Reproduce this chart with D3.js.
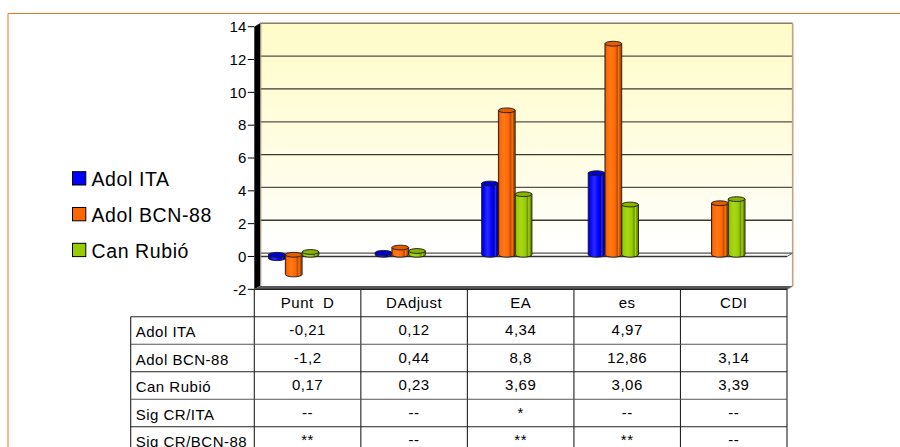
<!DOCTYPE html>
<html>
<head>
<meta charset="utf-8">
<script src="https://cdn.jsdelivr.net/npm/d3@7/dist/d3.min.js"></script>
<style>
  html, body { margin: 0; padding: 0; background: #fff; }
  svg { display: block; font-family: "Liberation Sans", Arial, sans-serif; }
  text { white-space: pre; }
</style>
</head>
<body>
<svg id="chart" width="900" height="447"></svg>
<script>
// Categories and series values
const categories = ["Punt  D", "DAdjust", "EA", "es", "CDI"];
const seriesNames = ["Adol ITA", "Adol BCN-88", "Can Rubió"];
const adolITA   = [-0.21, 0.12, 4.34, 4.97, null];
const adolBCN88 = [-1.2, 0.44, 8.8, 12.86, 3.14];
const canRubio  = [0.17, 0.23, 3.69, 3.06, 3.39];
const sigCrIta  = ["--", "--", "*", "--", "--"];
const sigCrBcn  = ["**", "--", "**", "**", "--"];
const yTickValues = [-2, 0, 2, 4, 6, 8, 10, 12, 14];

const seriesValues = [adolITA, adolBCN88, canRubio];
const seriesColors = [
  { base: "#0000ff", light: "#2a2aff", dark: "#0000a8", top: "#0000d0" },
  { base: "#ff6600", light: "#ff7a1a", dark: "#b84a00", top: "#e85c00" },
  { base: "#99cc00", light: "#a8d81a", dark: "#6e9200", top: "#88b400" }
];

const svg = d3.select("#chart");
const defs = svg.append("defs");

// Layout
const plotLeft = 254.3, plotRight = 787;
const depthX = 5.7, depthY = -3.4;

const y = d3.scaleLinear().domain([-2, 14]).range([289.3, 26.7]);
const x = d3.scaleBand().domain(categories).range([plotLeft, plotRight]);
const bw = x.bandwidth();
const barOffset = bw * 0.134;
const xs = d3.scaleBand().domain(seriesNames).range([0, bw * 0.472]);

// Outer frame
svg.append("line").attr("x1", 8).attr("x2", 900).attr("y1", 13.5).attr("y2", 13.5)
  .attr("stroke", "#e8782e").attr("stroke-width", 1.2);
svg.append("line").attr("x1", 8).attr("x2", 8).attr("y1", 13.5).attr("y2", 447)
  .attr("stroke", "#f9a46c").attr("stroke-width", 1.6);

// Back wall gradient
const wallGrad = defs.append("linearGradient").attr("id", "wallGrad")
  .attr("x1", 0).attr("y1", 0).attr("x2", 0).attr("y2", 1);
wallGrad.append("stop").attr("offset", "0%").attr("stop-color", "#fefcc8");
wallGrad.append("stop").attr("offset", "55%").attr("stop-color", "#fffde6");
wallGrad.append("stop").attr("offset", "85%").attr("stop-color", "#ffffff");
wallGrad.append("stop").attr("offset", "100%").attr("stop-color", "#ffffff");

const wallL = plotLeft + depthX, wallR = plotRight + depthX;
const wallT = y(14) + depthY, wallB = y(-2) + depthY;
svg.append("rect").attr("x", wallL).attr("y", wallT)
  .attr("width", wallR - wallL).attr("height", wallB - wallT)
  .attr("fill", "url(#wallGrad)");

// Gridlines on the back wall
svg.append("g").selectAll("line").data(yTickValues.filter(v => v > -2 && v < 14)).join("line")
  .attr("x1", wallL).attr("x2", wallR)
  .attr("y1", d => y(d) + depthY).attr("y2", d => y(d) + depthY)
  .attr("stroke", (d, i) => i % 2 ? "#3a3a30" : "#555048").attr("stroke-width", 1.3);

// Wall edges
svg.append("line").attr("x1", wallL).attr("x2", wallR).attr("y1", wallT).attr("y2", wallT)
  .attr("stroke", "#8c7c66").attr("stroke-width", 1.6);
svg.append("line").attr("x1", wallR).attr("x2", wallR).attr("y1", wallT).attr("y2", wallB)
  .attr("stroke", "#c4a184").attr("stroke-width", 1.6);
svg.append("line").attr("x1", wallR).attr("x2", plotRight).attr("y1", wallB).attr("y2", y(-2))
  .attr("stroke", "#c4a184").attr("stroke-width", 1.4);

// Zero plane: front edge
svg.append("line").attr("x1", plotLeft + 2).attr("x2", plotRight)
  .attr("y1", y(0)).attr("y2", y(0))
  .attr("stroke", "#333").attr("stroke-width", 1.4);
svg.append("line").attr("x1", plotRight).attr("x2", wallR)
  .attr("y1", y(0)).attr("y2", y(0) + depthY)
  .attr("stroke", "#555").attr("stroke-width", 1);

// Left side wall (seen edge-on) and floor
svg.append("path")
  .attr("d", `M${plotLeft},${y(14)} L${wallL},${wallT} L${wallL},${wallB} L${plotLeft},${y(-2)} Z`)
  .attr("fill", "#000");
svg.append("line").attr("x1", wallL + 0.7).attr("x2", wallL + 0.7).attr("y1", wallT).attr("y2", wallB)
  .attr("stroke", "#9a8a78").attr("stroke-width", 1.2);
svg.append("path")
  .attr("d", `M${plotLeft},${y(-2)} L${wallL},${wallB} L${wallR},${wallB} L${plotRight},${y(-2)} Z`)
  .attr("fill", "#5a5a5a");
svg.append("line").attr("x1", plotLeft).attr("x2", plotRight).attr("y1", y(-2)).attr("y2", y(-2))
  .attr("stroke", "#222").attr("stroke-width", 1.2);

// Y axis ticks and labels
const yAxis = svg.append("g");
yAxis.selectAll("line").data(yTickValues).join("line")
  .attr("x1", plotLeft - 6.5).attr("x2", plotLeft)
  .attr("y1", d => y(d)).attr("y2", d => y(d))
  .attr("stroke", "#000").attr("stroke-width", 1);
yAxis.selectAll("text").data(yTickValues).join("text")
  .attr("x", plotLeft - 8).attr("y", d => y(d) + 5.3)
  .attr("text-anchor", "end").attr("font-size", 15).attr("fill", "#000")
  .text(d => d);

// Cylinder gradients per series
seriesColors.forEach((c, i) => {
  const g = defs.append("linearGradient").attr("id", "cyl" + i)
    .attr("x1", 0).attr("y1", 0).attr("x2", 1).attr("y2", 0);
  [["0%", c.dark], ["10%", c.base], ["35%", c.light], ["62%", c.base],
   ["74%", c.dark], ["82%", c.light], ["90%", c.dark], ["100%", c.dark]]
    .forEach(([o, col]) => g.append("stop").attr("offset", o).attr("stop-color", col));
});

// Bars drawn as cylinders
const ry = 2.4;
const barShiftY = depthY / 2;
const barsG = svg.append("g");
seriesValues.forEach((vals, si) => {
  vals.forEach((v, ci) => {
    if (v === null || v === undefined) return;
    const x0 = x(categories[ci]) + barOffset + xs(seriesNames[si]);
    const w = xs.bandwidth();
    const cx = x0 + w / 2;
    const y0 = y(0) + barShiftY;
    const y1 = y(v) + barShiftY;
    const top = Math.min(y0, y1), bot = Math.max(y0, y1);
    const g = barsG.append("g");
    // body
    g.append("path")
      .attr("d", `M${x0},${top} L${x0},${bot} A${w / 2},${ry} 0 0 0 ${x0 + w},${bot} L${x0 + w},${top} Z`)
      .attr("fill", `url(#cyl${si})`).attr("stroke", "#1a1a1a").attr("stroke-width", 0.9);
    // top cap
    g.append("ellipse").attr("cx", cx).attr("cy", top).attr("rx", w / 2).attr("ry", ry)
      .attr("fill", seriesColors[si].top).attr("stroke", "#1a1a1a").attr("stroke-width", 0.9);
  });
});

// Data table below the plot
const rowH = 27.5;
const headerTop = y(-2);
const tableTop = headerTop + rowH;
const labelLeft = 130.7;
const tableG = svg.append("g").attr("font-size", 15).attr("letter-spacing", 0.5).attr("fill", "#000");

const rows = [
  { label: seriesNames[0], cells: adolITA.map(fmt) },
  { label: seriesNames[1], cells: adolBCN88.map(fmt) },
  { label: seriesNames[2], cells: canRubio.map(fmt) },
  { label: "Sig CR/ITA", cells: sigCrIta },
  { label: "Sig CR/BCN-88", cells: sigCrBcn }
];
function fmt(v) { return v === null ? "" : String(v).replace(".", ","); }

// header row
tableG.selectAll("text.hdr").data(categories).join("text").attr("class", "hdr")
  .attr("x", d => x(d) + bw / 2).attr("y", headerTop + 18.2)
  .attr("text-anchor", "middle").text(d => d);

// grid lines of the table
const tableBottom = tableTop + rows.length * rowH;
const lineColor = "#222";
x.domain().concat([null]).forEach(d => {
  const xx = d === null ? plotRight : x(d);
  tableG.append("line").attr("x1", xx).attr("x2", xx).attr("y1", headerTop).attr("y2", tableBottom)
    .attr("stroke", lineColor).attr("stroke-width", 1.1);
});
tableG.append("line").attr("x1", labelLeft).attr("x2", labelLeft).attr("y1", tableTop).attr("y2", tableBottom)
  .attr("stroke", lineColor).attr("stroke-width", 1.1);
d3.range(rows.length + 1).forEach(i => {
  tableG.append("line").attr("x1", labelLeft).attr("x2", plotRight)
    .attr("y1", tableTop + i * rowH).attr("y2", tableTop + i * rowH)
    .attr("stroke", i % 2 ? "#555" : lineColor).attr("stroke-width", 1.1);
});

rows.forEach((r, ri) => {
  const top = tableTop + ri * rowH;
  tableG.append("text").attr("x", labelLeft + 5).attr("y", top + 20.3).text(r.label);
  r.cells.forEach((c, ci) => {
    tableG.append("text").attr("x", x(categories[ci]) + bw / 2).attr("y", top + 18.4)
      .attr("text-anchor", "middle").text(c);
  });
});

// Legend
const legendG = svg.append("g").attr("font-size", 19.5).attr("letter-spacing", 0.6);
seriesNames.forEach((name, i) => {
  const ly = 171.7 + i * 35.8;
  legendG.append("rect").attr("x", 72.5).attr("y", ly).attr("width", 13.3).attr("height", 13.3)
    .attr("fill", seriesColors[i].base).attr("stroke", "#000").attr("stroke-width", 1);
  legendG.append("text").attr("x", 91.5).attr("y", ly + 14.3).attr("fill", "#000").text(name);
});
</script>
</body>
</html>
